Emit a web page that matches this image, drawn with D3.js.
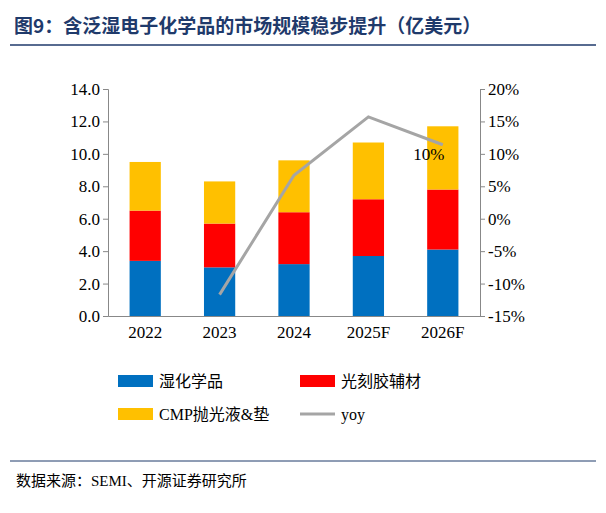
<!DOCTYPE html>
<html>
<head>
<meta charset="utf-8">
<style>
body { margin: 0; background: #fff; }
text { font-family: "Liberation Serif", "Noto Sans CJK SC", serif; }
</style>
</head>
<body>
<script src="https://d3js.org/d3.v7.min.js"></script>
<script>
var years = ["2022", "2023", "2024", "2025F", "2026F"];
var wet = [3.4, 3.0, 3.2, 3.7, 4.1];
var photo = [3.1, 2.7, 3.2, 3.5, 3.7];
var cmp = [3.0, 2.6, 3.2, 3.5, 3.9];
var yoy = [null, -11.7, 6.7, 15.7, 11.4];
var leftTicks = [0, 2, 4, 6, 8, 10, 12, 14];
var rightTicks = [-15, -10, -5, 0, 5, 10, 15, 20];
var series = [
  {name: "湿化学品", values: wet, color: "#0070C0"},
  {name: "光刻胶辅材", values: photo, color: "#FF0000"},
  {name: "CMP抛光液&垫", values: cmp, color: "#FFC000"}
];

var svg = d3.select("body").append("svg").attr("width", 606).attr("height", 513);

// title
svg.append("text").attr("x", 14).attr("y", 33)
  .style("font-family", "'Noto Sans CJK SC'").style("font-weight", "bold")
  .style("font-size", "19px").attr("fill", "#1F3A6B")
  .text("图9：含泛湿电子化学品的市场规模稳步提升（亿美元）");
svg.append("line").attr("x1", 10).attr("x2", 596).attr("y1", 45).attr("y2", 45)
  .attr("stroke", "#1F3A6B").attr("stroke-width", 1.5);

var x = d3.scaleBand().domain(years).range([108, 480]).paddingInner(0.58).paddingOuter(0.29);
var y = d3.scaleLinear().domain([0, 14]).range([316, 89]);
var y2 = d3.scaleLinear().domain([-15, 20]).range([316, 89]);

// bars
var base = years.map(function(){ return 0; });
series.forEach(function(s){
  svg.append("g").selectAll("rect").data(s.values).join("rect")
    .attr("x", function(d, i){ return x(years[i]); })
    .attr("width", x.bandwidth())
    .attr("y", function(d, i){ return y(base[i] + d); })
    .attr("height", function(d){ return y(0) - y(d); })
    .attr("fill", s.color);
  s.values.forEach(function(v, i){ base[i] += v; });
});

// axes
var ax = svg.append("g").attr("transform", "translate(108,0)")
  .call(d3.axisLeft(y).tickValues(leftTicks).tickFormat(d3.format(".1f")).tickSize(5));
var ax2 = svg.append("g").attr("transform", "translate(480,0)")
  .call(d3.axisRight(y2).tickValues(rightTicks).tickFormat(function(d){ return d + "%"; }).tickSize(5));
var axb = svg.append("g").attr("transform", "translate(0,316)")
  .call(d3.axisBottom(x).tickSize(0).tickPadding(10));
[ax, ax2, axb].forEach(function(g){
  g.selectAll("path, line").attr("stroke", "#888");
  g.selectAll("text").style("font-family", "'Liberation Serif'").style("font-size", "17px").attr("fill", "#000");
});
axb.select(".domain").attr("stroke", "#888");

// yoy line
var line = d3.line().defined(function(d){ return d != null; })
  .x(function(d, i){ return x(years[i]) + x.bandwidth() / 2; })
  .y(function(d){ return y2(d); });
svg.append("path").datum(yoy).attr("d", line).attr("fill", "none")
  .attr("stroke", "#A5A5A5").attr("stroke-width", 3);
svg.append("text").attr("x", x("2026F") - 14).attr("y", 160)
  .style("font-size", "17px").text("10%");

// legend
var leg = [
  {name: series[0].name, color: series[0].color, x: 118, y: 381, type: "rect"},
  {name: series[1].name, color: series[1].color, x: 300, y: 381, type: "rect"},
  {name: series[2].name, color: series[2].color, x: 118, y: 414, type: "rect"},
  {name: "yoy", color: "#A5A5A5", x: 300, y: 414, type: "line"}
];
leg.forEach(function(l){
  if (l.type === "rect") {
    svg.append("rect").attr("x", l.x).attr("y", l.y - 6).attr("width", 35).attr("height", 12).attr("fill", l.color);
  } else {
    svg.append("line").attr("x1", l.x).attr("x2", l.x + 35).attr("y1", l.y).attr("y2", l.y)
      .attr("stroke", l.color).attr("stroke-width", 3);
  }
  svg.append("text").attr("x", l.x + 41).attr("y", l.y + 6)
    .style("font-family", "'Liberation Serif','Noto Sans CJK SC'").style("font-size", "16px").text(l.name);
});

// source
svg.append("line").attr("x1", 10).attr("x2", 596).attr("y1", 461).attr("y2", 461)
  .attr("stroke", "#1F3A6B").attr("stroke-width", 1);
svg.append("text").attr("x", 16).attr("y", 486)
  .style("font-family", "'Liberation Serif','Noto Sans CJK SC'").style("font-size", "15px")
  .text("数据来源：SEMI、开源证券研究所");
</script>
</body>
</html>
